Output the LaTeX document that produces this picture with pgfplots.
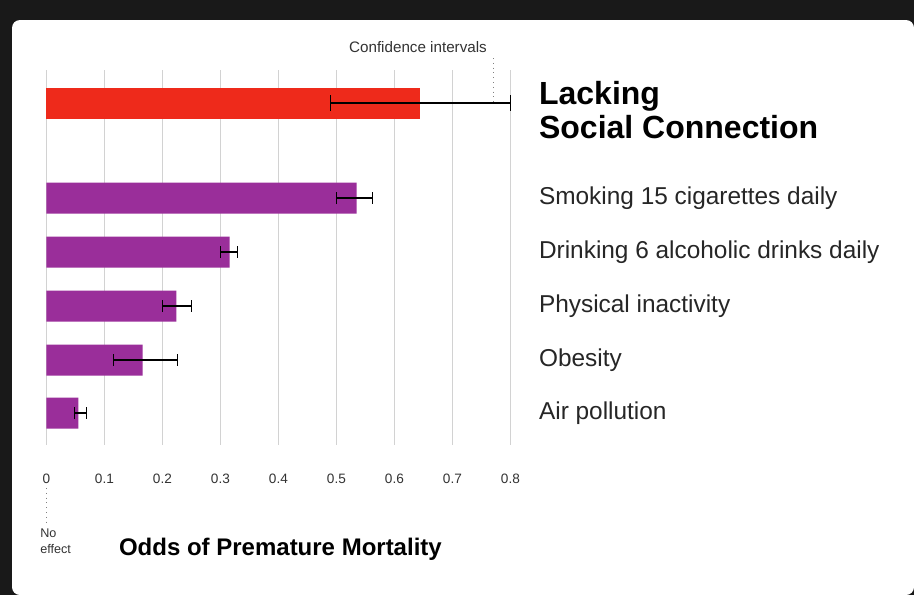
\documentclass[border=0pt]{standalone}
\usepackage{pgfplots}
\pgfplotsset{compat=1.18}
\usepackage{fontspec}
\setmainfont{Liberation Sans}
\definecolor{redbar}{HTML}{EE2A1B}
\definecolor{purp}{HTML}{9A2E9A}
\begin{document}
\begin{tikzpicture}[x=0.5pt,y=-0.5pt]
\useasboundingbox (0,0) rectangle (914,595);
\fill[black!90] (0,0) rectangle (914,595);
\fill[white,rounded corners=4pt] (12,20) rectangle (914,595);
\begin{axis}[at={(80,445)},anchor=south west,scale only axis,
  width=232pt,height=187.5pt,xmin=0,xmax=0.8,ymin=70,ymax=445,y dir=reverse,
  axis x line=bottom, axis y line=none, x axis line style={draw=none},
  xtick={0,0.1,...,0.8}, major tick length=0pt, ytick=\empty,
  xmajorgrids, grid style={gray!35,line width=0.8pt},
  xticklabel style={font=\fontsize{6.8}{7}\selectfont,text=black!80,yshift=-11pt},
  /pgf/number format/assume math mode=true,
  clip=false,
  xbar, bar width=31, bar shift=0pt,
  ]
\addplot[fill=redbar,draw=none,error bars/.cd,x dir=both,x explicit,
  error bar style={black,line width=0.6pt},error mark options={rotate=90,mark size=4pt,black}]
  coordinates {(0.645,103) += (0.155,0) -= (0.155,0)};
\addplot[fill=purp,draw=none,error bars/.cd,x dir=both,x explicit,
  error bar style={black,line width=0.8pt},error mark options={rotate=90,mark size=3pt,black}]
  coordinates {
  (0.535,198) += (0.027,0) -= (0.035,0)
  (0.316,252) += (0.014,0) -= (0.016,0)
  (0.224,306) += (0.026,0) -= (0.024,0)
  (0.166,360) += (0.06,0) -= (0.05,0)
  (0.055,413) += (0.014,0) -= (0.007,0)
  };
\end{axis}
\node[anchor=base,font=\fontsize{7.6}{8}\selectfont,text=black!80] at (418,52) {Confidence intervals};
\draw[dotted,gray] (493,58) -- (493,105);
\node[anchor=west,align=left,font=\bfseries\fontsize{16}{17}\selectfont] at (532,110) {Lacking\\Social Connection};
\foreach \t/\y in {Smoking 15 cigarettes daily/198,Drinking 6 alcoholic drinks daily/252,Physical inactivity/306,Obesity/360,Air pollution/413}
  \node[anchor=west,font=\fontsize{12.2}{13}\selectfont,text=black!85] at (532,\y) {\t};
\draw[dotted,gray] (46,488) -- (46,525);
\node[anchor=north west,align=left,inner sep=0pt,font=\fontsize{6.3}{8}\selectfont,text=black!80] at (40,528) {No\\effect};
\node[anchor=west,font=\bfseries\fontsize{12}{13}\selectfont] at (112,549) {Odds of Premature Mortality};
\end{tikzpicture}
\end{document}
